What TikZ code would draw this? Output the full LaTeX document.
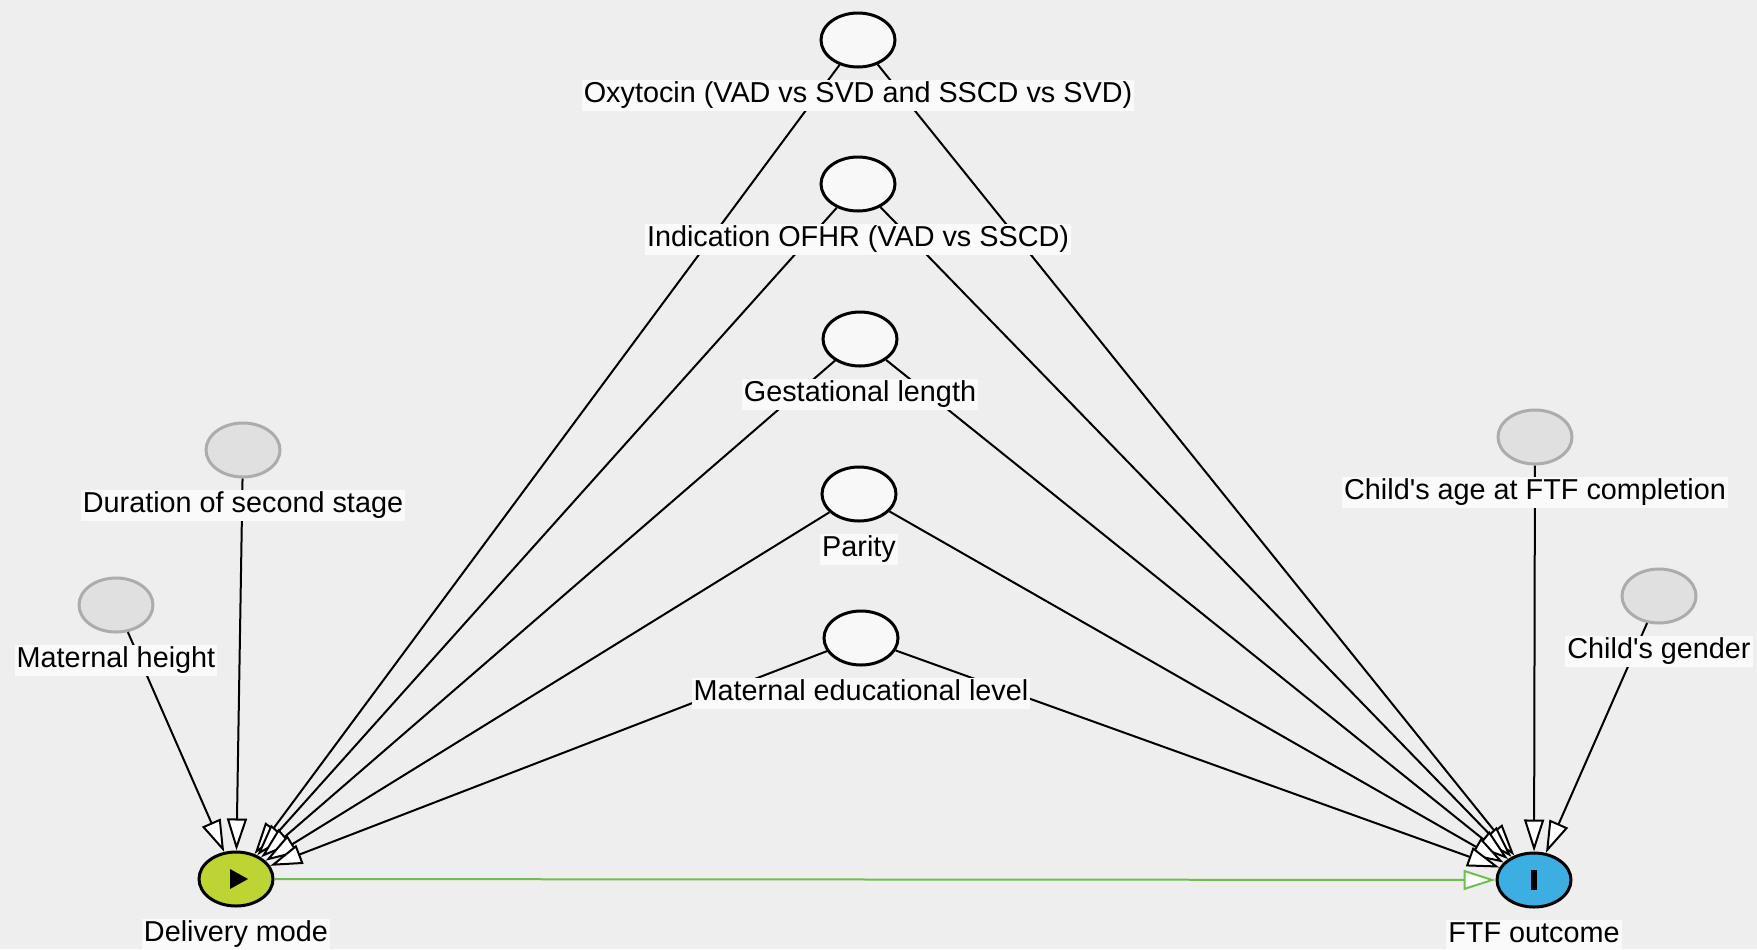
\documentclass[tikz,border=0pt]{standalone}
\usepackage{fontspec}
\setmainfont{Liberation Sans}[Ligatures=TeXOff]
\usepackage{xcolor}
\definecolor{canvasgrey}{RGB}{238,238,238}
\definecolor{labelfill}{RGB}{250,250,250}
\definecolor{plainfill}{RGB}{248,248,248}
\definecolor{adjfill}{RGB}{224,224,224}
\definecolor{adjdraw}{RGB}{172,172,172}
\definecolor{exposurecol}{RGB}{190,212,50}
\definecolor{outcomecol}{RGB}{60,174,225}
\definecolor{causalgreen}{RGB}{112,190,80}
\usepackage{tikz}
\usetikzlibrary{shapes.geometric}
\usetikzlibrary{arrows.meta}
\usetikzlibrary{positioning}
\newcommand{\widthvar}{37pt}
\newcommand{\heightvar}{27pt}
\newcommand{\gaplabel}{5.5pt}
\tikzset{
    var/.style={draw, ellipse, line width=1.5pt, minimum width=\widthvar, minimum height=\heightvar, inner sep=0pt},
    plain/.style={var, fill=plainfill},
    adjusted/.style={var, draw=adjdraw, fill=adjfill},
    exposure/.style={var, fill=exposurecol,
        path picture={
            \fill[black] (path picture bounding box.center) ++(-3pt,-5pt) -- ++(9pt,5pt) -- ++(-9pt,5pt) -- cycle;
        }
    },
    outcome/.style={var, fill=outcomecol,
        path picture={
            \fill[black] (path picture bounding box.center) ++(-1.5pt,-5pt) rectangle ++(3pt,10pt);
        }
    },
    lbl/.style={fill=labelfill, inner xsep=1pt, inner ysep=1pt, text height=10.3pt, text depth=3pt, font=\fontsize{14.4}{16}\selectfont},
    arc/.style={line width=1pt, -{Triangle[length=16pt, width=10pt, fill=white]}},
    causal/.style={arc, draw=causalgreen}
}

\begin{document}
\begin{tikzpicture}[x=0.5pt, y=-0.5pt]
      \path[use as bounding box, fill=canvasgrey] (0,0) rectangle (1757,949);

      \path
          (858,40) node[plain] (oxy) {}
          (858,184) node[plain] (ofhr) {}
          (860,339) node[plain] (gest) {}
          (859,494) node[plain] (parity) {}
          (861,638) node[plain] (edu) {}
          (243,450) node[adjusted] (dur) {}
          (116,605) node[adjusted] (height) {}
          (1535,437) node[adjusted] (age) {}
          (1659,596) node[adjusted] (gender) {}
          (236,879) node[exposure] (deliv) {}
          (1534,880) node[outcome] (ftf) {};

      \draw[arc] (height) -- (deliv);
      \draw[arc] (dur) -- (deliv);
      \draw[arc] (oxy) -- (deliv);
      \draw[arc] (ofhr) -- (deliv);
      \draw[arc] (gest) -- (deliv);
      \draw[arc] (parity) -- (deliv);
      \draw[arc] (edu) -- (deliv);
      \draw[arc] (oxy) -- (ftf);
      \draw[arc] (ofhr) -- (ftf);
      \draw[arc] (gest) -- (ftf);
      \draw[arc] (parity) -- (ftf);
      \draw[arc] (edu) -- (ftf);
      \draw[arc] (age) -- (ftf);
      \draw[arc] (gender) -- (ftf);
      \draw[causal] (deliv) -- (ftf);

      \path
          node[lbl, below=\gaplabel of oxy] (oxy-label) {Oxytocin (VAD vs SVD and SSCD vs SVD)}
          node[lbl, below=\gaplabel of ofhr] (ofhr-label) {Indication OFHR (VAD vs SSCD)}
          node[lbl, below=\gaplabel of gest] (gest-label) {Gestational length}
          node[lbl, below=\gaplabel of parity] (parity-label) {Parity}
          node[lbl, below=\gaplabel of edu] (edu-label) {Maternal educational level}
          node[lbl, below=\gaplabel of dur] (dur-label) {Duration of second stage}
          node[lbl, below=\gaplabel of height] (height-label) {Maternal height}
          node[lbl, below=\gaplabel of age] (age-label) {Child's age at FTF completion}
          node[lbl, below=\gaplabel of gender] (gender-label) {Child's gender}
          node[lbl, below=\gaplabel of deliv] (deliv-label) {Delivery mode}
          node[lbl, below=\gaplabel of ftf] (ftf-label) {FTF outcome};
\end{tikzpicture}
\end{document}
